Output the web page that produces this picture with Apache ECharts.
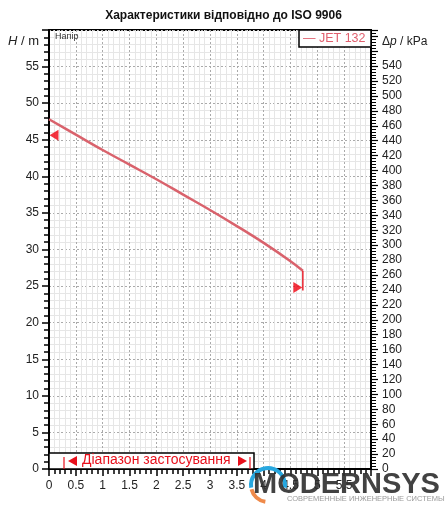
<!DOCTYPE html>
<html>
<head>
<meta charset="utf-8">
<script src="https://cdn.jsdelivr.net/npm/echarts@6/dist/echarts.min.js"></script>
<style>
html,body{margin:0;padding:0;background:#fff;}
#c{width:447px;height:505px;}
</style>
</head>
<body>
<div id="c"></div>
<script>
// ---- data ----
const flowQ = [0, 0.5, 1, 1.5, 2, 2.5, 3, 3.5, 4, 4.5, 4.73];
const headH = [47.8, 45.7, 43.6, 41.6, 39.6, 37.5, 35.4, 33.2, 30.9, 28.4, 27.1];
const endDropQ = [4.73, 4.73];
const endDropH = [27.1, 24.4];
const shutoffMarker = [0, 45.6];
const dutyMarker = [4.73, 24.8];
const seriesName = 'JET 132';
const titleText = 'Характеристики відповідно до ISO 9906';
const rangeText = 'Діапазон застосування';
const M_TO_KPA = 9.80665;

const chart = echarts.init(document.getElementById('c'), null, {renderer: 'canvas'});
const FONT = '"Liberation Sans", Arial, sans-serif';

const option = {
  animation: false,
  backgroundColor: '#fff',
  textStyle: {fontFamily: FONT},
  title: {
    text: titleText, left: 'center', top: 5,
    textStyle: {fontSize: 12, fontWeight: 'bold', color: '#111', fontFamily: FONT}
  },
  grid: {left: 49, right: 76, top: 30, bottom: 36, show: true, borderColor: '#000', borderWidth: 2, backgroundColor: 'transparent'},
  xAxis: {
    type: 'value', min: 0, max: 6, interval: 0.5,
    axisLine: {show: true, lineStyle: {color: '#000', width: 2}},
    axisTick: {show: true, length: 7, lineStyle: {color: '#000', width: 1.5}},
    minorTick: {show: true, splitNumber: 5, length: 5, lineStyle: {color: '#000', width: 1.5}},
    axisLabel: {fontSize: 12, color: '#222', margin: 11, fontFamily: FONT,
      formatter: v => (v > 5.6 ? '' : String(v))},
    splitLine: {show: true, lineStyle: {color: '#aaa', type: [2, 2], width: 1}},
    minorSplitLine: {show: true, lineStyle: {color: '#e6e6e6', width: 1}}
  },
  yAxis: [{
    type: 'value', min: 0, max: 60, interval: 5, position: 'left',
    axisLine: {show: true, lineStyle: {color: '#000', width: 2}},
    axisTick: {show: true, length: 7, lineStyle: {color: '#000', width: 1.5}},
    minorTick: {show: true, splitNumber: 5, length: 5, lineStyle: {color: '#000', width: 1.5}},
    axisLabel: {fontSize: 12, color: '#222', margin: 10, fontFamily: FONT,
      formatter: v => (v >= 60 ? '' : String(v))},
    splitLine: {show: true, lineStyle: {color: '#aaa', type: [2, 2], width: 1}},
    minorSplitLine: {show: true, lineStyle: {color: '#e6e6e6', width: 1}}
  }, {
    type: 'value', min: 0, max: 60 * M_TO_KPA, interval: 20, position: 'right',
    axisLine: {show: true, lineStyle: {color: '#000', width: 2}},
    axisTick: {show: true, length: 7, lineStyle: {color: '#000', width: 1.2}},
    minorTick: {show: true, splitNumber: 5, length: 5, lineStyle: {color: '#000', width: 1}},
    axisLabel: {fontSize: 12, color: '#222', margin: 11, fontFamily: FONT,
      formatter: v => (v > 545 ? '' : String(v))},
    splitLine: {show: false}, minorSplitLine: {show: false}
  }],
  series: [{
    name: seriesName, type: 'line', smooth: 0.4, showSymbol: false,
    data: flowQ.map((q, i) => [q, headH[i]]),
    lineStyle: {color: '#d9626c', width: 2.5}, z: 5
  }, {
    type: 'line', showSymbol: false,
    data: endDropQ.map((q, i) => [q, endDropH[i]]),
    lineStyle: {color: '#e8232e', width: 1.5}, z: 5
  }, {
    type: 'scatter', data: [shutoffMarker],
    symbol: 'path://M0,5 L10,0 L10,10 Z', symbolSize: [9, 11], symbolOffset: [5, 0],
    itemStyle: {color: '#f0000f'}, z: 6
  }, {
    type: 'scatter', data: [dutyMarker],
    symbol: 'path://M10,5 L0,0 L0,10 Z', symbolSize: [9, 11], symbolOffset: [-5, 0],
    itemStyle: {color: '#f0000f'}, z: 6
  }],
  graphic: [
    // axis names
    {type: 'text', left: 8, top: 35, z: 10, style: {
      text: '{i|H} / m', fill: '#222', font: '13px ' + FONT,
      rich: {i: {fontStyle: 'italic', fontSize: 13, fontFamily: FONT, fill: '#222'}}}},
    {type: 'text', left: 382, top: 36, z: 10, style: {
      text: 'Δ{i|p} / kPa', fill: '#222', font: '12px ' + FONT,
      rich: {i: {fontStyle: 'italic', fontSize: 12, fontFamily: FONT, fill: '#222'}}}},
    {type: 'text', left: 55, top: 32, z: 10, style: {text: 'Напір', fill: '#333', font: '9px ' + FONT}},
    // legend box
    {type: 'rect', z: 10, shape: {x: 299, y: 30, width: 72, height: 17},
      style: {fill: '#fff', stroke: '#000', lineWidth: 1.5}},
    {type: 'text', left: 303, top: 32, z: 11, style: {text: '— ' + seriesName, fill: '#e0606e', font: '12.5px ' + FONT}},
    // range box
    {type: 'rect', z: 10, shape: {x: 49, y: 453, width: 205, height: 16},
      style: {fill: '#fff', stroke: '#000', lineWidth: 1.5}},
    {type: 'line', z: 11, shape: {x1: 64, y1: 457, x2: 64, y2: 469}, style: {stroke: '#e8101c', lineWidth: 1.2}},
    {type: 'line', z: 11, shape: {x1: 250, y1: 457, x2: 250, y2: 469}, style: {stroke: '#e8101c', lineWidth: 1.2}},
    {type: 'polygon', z: 11, shape: {points: [[68, 461], [77, 456], [77, 466]]}, style: {fill: '#e8101c'}},
    {type: 'polygon', z: 11, shape: {points: [[247, 461], [238, 456], [238, 466]]}, style: {fill: '#e8101c'}},
    {type: 'text', left: 82, top: 453, z: 11, style: {text: rangeText, fill: '#e8101c', font: '14px ' + FONT}},
    // watermark logo
    {type: 'arc', z: 20, shape: {cx: 268, cy: 485, r: 17, startAngle: Math.PI * 0.95, endAngle: Math.PI * 2.05},
      style: {stroke: '#27a7df', lineWidth: 4, fill: null}},
    {type: 'arc', z: 20, shape: {cx: 268, cy: 485, r: 17, startAngle: Math.PI * 0.55, endAngle: Math.PI * 0.92},
      style: {stroke: '#ef8a4a', lineWidth: 4, fill: null}},
    {type: 'text', left: 253, top: 470, z: 21, style: {text: 'MODERNSYS', fill: 'rgba(45,45,45,0.9)', font: 'bold 29px ' + FONT}},
    {type: 'text', left: 287, top: 495, z: 21, style: {text: 'СОВРЕМЕННЫЕ ИНЖЕНЕРНЫЕ СИСТЕМЫ', fill: '#9a9a9a', font: '7.5px ' + FONT}}
  ]
};
chart.setOption(option);
</script>
</body>
</html>
